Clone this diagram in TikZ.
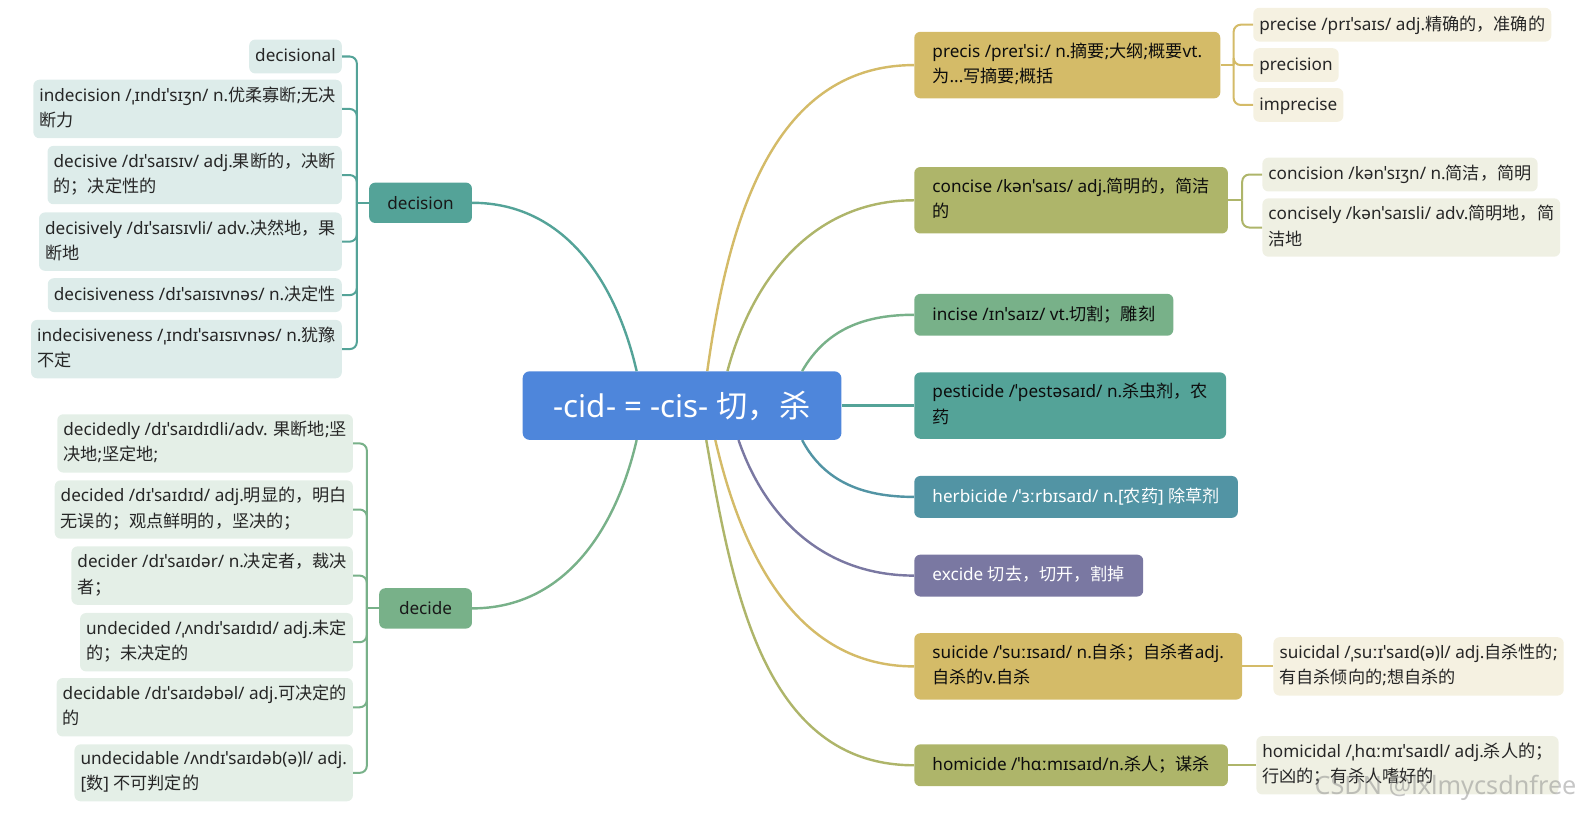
\documentclass[tikz,border=0pt]{standalone}
\usepackage{fontspec}
\setmainfont{Noto Sans}
\newfontfamily\cjkfont{Noto Sans CJK SC}
% Chinese characters are set in the CJK font
\XeTeXinterchartokenstate=1
\newXeTeXintercharclass\cjkclass
\newcommand\cjkrange[2]{\count255=#1\relax
  \loop\XeTeXcharclass\count255=\cjkclass
    \advance\count255 by 1
  \ifnum\count255<#2\relax\repeat}
\cjkrange{"3000}{"3040}
\cjkrange{"4E00}{"A000}
\cjkrange{"FF00}{"FFF0}
\XeTeXinterchartoks 0 \cjkclass={\cjkfont}
\XeTeXinterchartoks 4095 \cjkclass={\cjkfont}
\XeTeXinterchartoks \cjkclass 0={\rmfamily}
\XeTeXinterchartoks \cjkclass 4095={\rmfamily}
\definecolor{hubblue}{RGB}{78,134,219}
\definecolor{tealbr}{RGB}{84,163,152}
\definecolor{greenbr}{RGB}{120,177,137}
\definecolor{goldbr}{RGB}{212,187,104}
\definecolor{olivebr}{RGB}{174,181,106}
\definecolor{bluebr}{RGB}{82,148,164}
\definecolor{purplebr}{RGB}{122,120,162}
\definecolor{tealleaf}{RGB}{221,236,234}
\definecolor{greenleaf}{RGB}{228,239,231}
\definecolor{goldleaf}{RGB}{245,241,225}
\definecolor{oliveleaf}{RGB}{239,240,227}
\newcommand\boxstrut{\rule[-4.5pt]{0pt}{19.5pt}}

\begin{document}
\begin{tikzpicture}[x=1pt, y=1pt,
    every node/.style={font=\fontsize{17}{25}\selectfont},
    hubbox/.style={fill=hubblue, text=white, rounded corners=7pt, minimum width=316pt,
      minimum height=68pt, font=\fontsize{31}{36}\selectfont},
    topicbox/.style={rounded corners=6pt, minimum height=40pt, minimum width=92pt, inner xsep=18pt, text=black!90},
    wordbox/.style={rounded corners=6pt, inner xsep=18pt, inner ysep=11pt, align=left, text=black!95,
      execute at begin node=\boxstrut, execute at end node=\boxstrut},
    leafbox/.style={rounded corners=6pt, inner xsep=6pt, inner ysep=7pt, align=left, text=black!85,
      execute at begin node=\boxstrut, execute at end node=\boxstrut},
    branch/.style={line width=2.4pt},
    bracket/.style={line width=2pt, rounded corners=7pt}]
  \useasboundingbox (0,0) rectangle (1568,-806);

  \node[hubbox] (hub) at (676,-402) {-cid- = -cis- 切，杀};

  % left: decision
  \node[topicbox, fill=tealbr, anchor=east] (decision) at (468,-201) {decision};
  \draw[branch, tealbr] ([xshift=-45pt]hub.north) to[out=103, in=0] (decision.east);
  \draw[bracket, tealbr] (decision.west) -- ++(-12pt,0);
  \foreach \nm/\y/\txt in {
      decisional/56/{decisional},
      indecision/108/{indecision /ˌɪndɪˈsɪʒn/ n.优柔寡断;无决\\断力},
      decisive/173.5/{decisive /dɪˈsaɪsɪv/ adj.果断的，决断\\的；决定性的},
      decisively/239.5/{decisively /dɪˈsaɪsɪvli/ adv.决然地，果\\断地},
      decisiveness/292.5/{decisiveness /dɪˈsaɪsɪvnəs/ n.决定性},
      indecisiveness/346/{indecisiveness /ˌɪndɪˈsaɪsɪvnəs/ n.犹豫\\不定}}
  {
    \node[leafbox, fill=tealleaf, anchor=east] (\nm) at (339,-\y) {\txt};
    \draw[bracket, tealbr] ([xshift=-12pt]decision.west) |- (\nm.east);
  }

  % left: decide
  \node[topicbox, fill=greenbr, anchor=east] (decide) at (468,-603) {decide};
  \draw[branch, greenbr] ([xshift=-45pt]hub.south) to[out=-103, in=0] (decide.east);
  \draw[bracket, greenbr] (decide.west) -- ++(-12pt,0);
  \foreach \nm/\y/\txt in {
      decidedly/439.5/{decidedly /dɪˈsaɪdɪdli/adv. 果断地;坚\\决地;坚定地;},
      decided/505/{decided /dɪˈsaɪdɪd/ adj.明显的，明白\\无误的；观点鲜明的，坚决的；},
      decider/570.5/{decider /dɪˈsaɪdər/ n.决定者，裁决\\者；},
      undecided/636.5/{undecided /ˌʌndɪˈsaɪdɪd/ adj.未定\\的；未决定的},
      decidable/701/{decidable /dɪˈsaɪdəbəl/ adj.可决定的\\的},
      undecidable/766/{undecidable /ʌndɪˈsaɪdəb(ə)l/ adj.\\{[}数{]} 不可判定的}}
  {
    \node[leafbox, fill=greenleaf, anchor=east] (\nm) at (350,-\y) {\txt};
    \draw[bracket, greenbr] ([xshift=-12pt]decide.west) |- (\nm.east);
  }

  % right
  \node[wordbox, fill=goldbr, anchor=west] (precis) at (906,-64.5) {precis /preɪˈsiː/ n.摘要;大纲;概要vt.\\为...写摘要;概括};
  \node[wordbox, fill=olivebr, anchor=west] (concise) at (906,-198.5) {concise /kənˈsaɪs/ adj.简明的，简洁\\的};
  \node[wordbox, fill=greenbr, anchor=west] (incise) at (906,-312) {incise /ɪnˈsaɪz/ vt.切割；雕刻};
  \node[wordbox, fill=tealbr, anchor=west] (pesticide) at (906,-402) {pesticide /ˈpestəsaɪd/ n.杀虫剂，农\\药};
  \node[wordbox, fill=bluebr, text=white, anchor=west] (herbicide) at (906,-492.5) {herbicide /ˈɜːrbɪsaɪd/ n.[农药] 除草剂};
  \node[wordbox, fill=purplebr, text=white, anchor=west] (excide) at (906,-570.5) {excide 切去，切开，割掉};
  \node[wordbox, fill=goldbr, anchor=west] (suicide) at (906,-660.5) {suicide /ˈsuːɪsaɪd/ n.自杀；自杀者adj.\\自杀的v.自杀};
  \node[wordbox, fill=olivebr, anchor=west] (homicide) at (906,-758.5) {homicide /ˈhɑːmɪsaɪd/n.杀人；谋杀};

  \draw[branch, goldbr] ([xshift=25pt]hub.north) to[out=82, in=180] (precis.west);
  \draw[branch, olivebr] ([xshift=45pt]hub.north) to[out=75, in=180] (concise.west);
  \draw[branch, greenbr] ([xshift=119pt]hub.north) to[out=60, in=180] (incise.west);
  \draw[branch, tealbr] (hub.east) -- (pesticide.west);
  \draw[branch, bluebr] ([xshift=119pt]hub.south) to[out=-62, in=180] (herbicide.west);
  \draw[branch, purplebr] ([xshift=56pt]hub.south) to[out=-71, in=180] (excide.west);
  \draw[branch, goldbr] ([xshift=33pt]hub.south) to[out=-77, in=180] (suicide.west);
  \draw[branch, olivebr] ([xshift=24pt]hub.south) to[out=-80, in=180] (homicide.west);

  \draw[bracket, goldbr] (precis.east) -- ++(13pt,0);
  \foreach \nm/\y/\txt in {
      precise/24.5/{precise /prɪˈsaɪs/ adj.精确的，准确的},
      precision/64.5/{precision},
      imprecise/104/{imprecise}}
  {
    \node[leafbox, fill=goldleaf, anchor=west] (\nm) at (1242,-\y) {\txt};
    \draw[bracket, goldbr] ([xshift=13pt]precis.east) |- (\nm.west);
  }
  \draw[bracket, olivebr] (concise.east) -- ++(14pt,0);
  \foreach \nm/\y/\txt in {
      concision/173/{concision /kənˈsɪʒn/ n.简洁，简明},
      concisely/225.5/{concisely /kənˈsaɪsli/ adv.简明地，简\\洁地}}
  {
    \node[leafbox, fill=oliveleaf, anchor=west] (\nm) at (1251,-\y) {\txt};
    \draw[bracket, olivebr] ([xshift=14pt]concise.east) |- (\nm.west);
  }
  \node[leafbox, fill=goldleaf, anchor=west] (suicidal) at (1262,-660.5) {suicidal /ˌsuːɪˈsaɪd(ə)l/ adj.自杀性的;\\有自杀倾向的;想自杀的};
  \draw[bracket, goldbr] (suicide.east) -- (suicidal.west);
  \node[leafbox, fill=oliveleaf, anchor=west] (homicidal) at (1245,-758.5) {homicidal /ˌhɑːmɪˈsaɪdl/ adj.杀人的；\\行凶的；有杀人嗜好的};
  \draw[bracket, olivebr] (homicide.east) -- (homicidal.west);

  \node[text=gray, opacity=0.45, font=\fontsize{25}{25}\selectfont, anchor=east] (mark) at (1566,-781) {CSDN @lxlmycsdnfree};
\end{tikzpicture}
\end{document}
